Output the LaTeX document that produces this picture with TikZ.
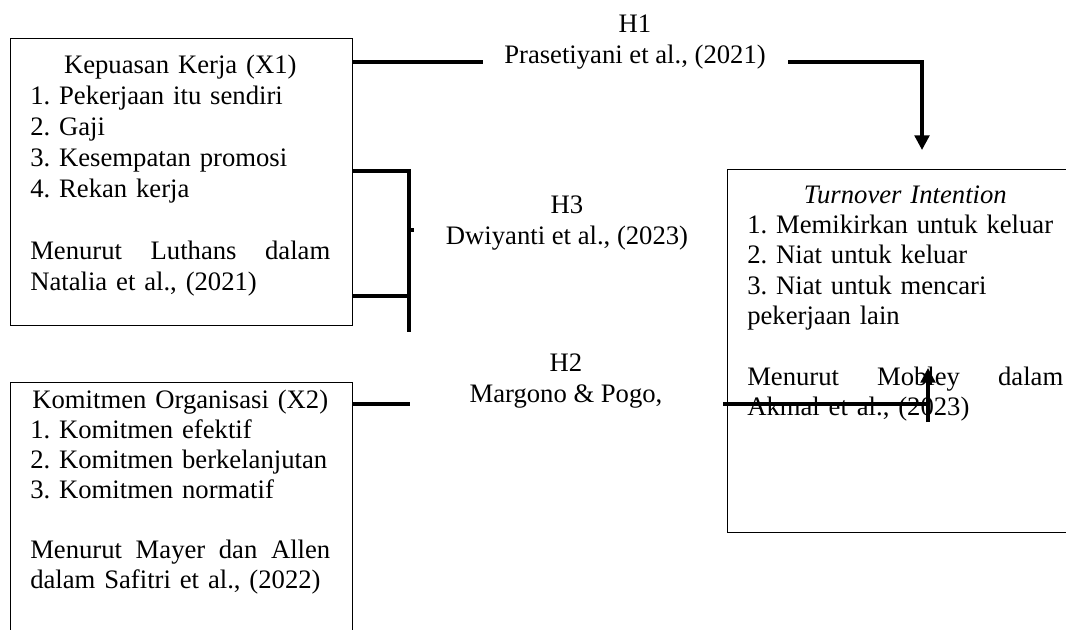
\documentclass[tikz,border=0pt]{standalone}
\usepackage{fontspec}
\setmainfont{Liberation Serif}
\usetikzlibrary{arrows.meta,calc}
\frenchspacing
\hyphenpenalty=10000
\begin{document}
\begin{tikzpicture}[x=0.75pt,y=-0.75pt,
  box/.style={draw, line width=0.8pt, inner sep=0pt, anchor=north west},
  txt/.style={inner sep=0pt, anchor=north west, align=left},
  lab/.style={inner sep=0pt, anchor=north, align=center, font=\fontsize{20}{23.25}\selectfont},
  conn/.style={line width=2.5pt},
  arr/.style={conn, -{Triangle[width=11pt,length=11pt]}}]
\useasboundingbox (0,0) rectangle (1066,630);
\clip (0,0) rectangle (1066,630);

% boxes
\node[box, minimum width=256.5pt, minimum height=215.25pt] (kk) at (10,38) {};
\node[box, minimum width=256.5pt, minimum height=210pt] (ko) at (10,382) {};
\node[box, minimum width=265pt, minimum height=272.25pt] (ti) at (727,169) {};

% box texts
\node[txt, text width=225pt, font=\fontsize{20}{23.25}\selectfont\frenchspacing] (kkt) at (30,51.3) {\strut\makebox[\hsize]{Kepuasan Kerja (X1)}\\
\mbox{1. Pekerjaan itu sendiri}\\
2. Gaji\\
\mbox{3. Kesempatan promosi}\\
4. Rekan kerja\\[23.25pt]
\makebox[\hsize][s]{Menurut\hfill Luthans\hfill dalam}\\
\mbox{Natalia et al., (2021)}};

\node[txt, text width=225pt, font=\fontsize{20}{22.5}\selectfont\frenchspacing] (kot) at (30,387) {\strut\makebox[\hsize]{Komitmen Organisasi (X2)}\\
\mbox{1. Komitmen efektif}\\
\mbox{2. Komitmen berkelanjutan}\\
\mbox{3. Komitmen normatif}\\[22.5pt]
\makebox[\hsize][s]{Menurut\hfill Mayer\hfill dan\hfill Allen}\\
\mbox{dalam Safitri et al., (2022)}};

\node[txt, text width=237pt, font=\fontsize{20}{22.7}\selectfont\frenchspacing] (tit) at (747,182) {\strut\makebox[\hsize]{\textit{Turnover Intention}}\\
\mbox{1. Memikirkan untuk keluar}\\
\mbox{2. Niat untuk keluar}\\
\mbox{3. Niat untuk mencari}\\
pekerjaan lain\\[22.7pt]
\makebox[\hsize][s]{Menurut\hfill Mobley\hfill dalam}\\
\mbox{Akmal et al., (2023)}};

% connector labels
\node[lab] (h1) at (635,10.3) {\strut H1\\Prasetiyani et al., (2021)};
\node[lab] (h3) at (567,191.3) {\strut H3\\Dwiyanti et al., (2023)};
\node[lab] (h2) at (566,349.3) {\strut H2\\Margono \& Pogo,};

% H1
\coordinate (a1) at ($(kk.north east)+(0,24)$);
\coordinate (a2) at (483,62);
\coordinate (a3) at (788,62);
\coordinate (a4) at ($(ti.north west)+(195,-19)$);
\draw[conn] (a1) -- (a2);
\draw[arr] (a3) -| (a4);

% H3
\coordinate (b1) at ($(kk.north east)+(0,133)$);
\coordinate (b2) at ($(kk.north east)+(0,258)$);
\coordinate (bb) at (409,332);
\coordinate (bt) at (409,230);
\draw[conn] (b1) -| (bb);
\draw[conn] (b2) -- (b2 -| bb);
\draw[conn] (bt) -- ++(4.5,0);

% H2
\coordinate (c1) at ($(ko.north west)+(342,22)$);
\coordinate (c2) at (410,404);
\coordinate (c3) at (723,404);
\coordinate (c4) at (928,404);
\coordinate (c5) at (928,422);
\coordinate (c6) at (928,368);
\draw[conn] (c1) -- (c2);
\draw[conn] (c3) -- (c4);
\draw[arr] (c5) -- (c6);
\end{tikzpicture}
\end{document}
